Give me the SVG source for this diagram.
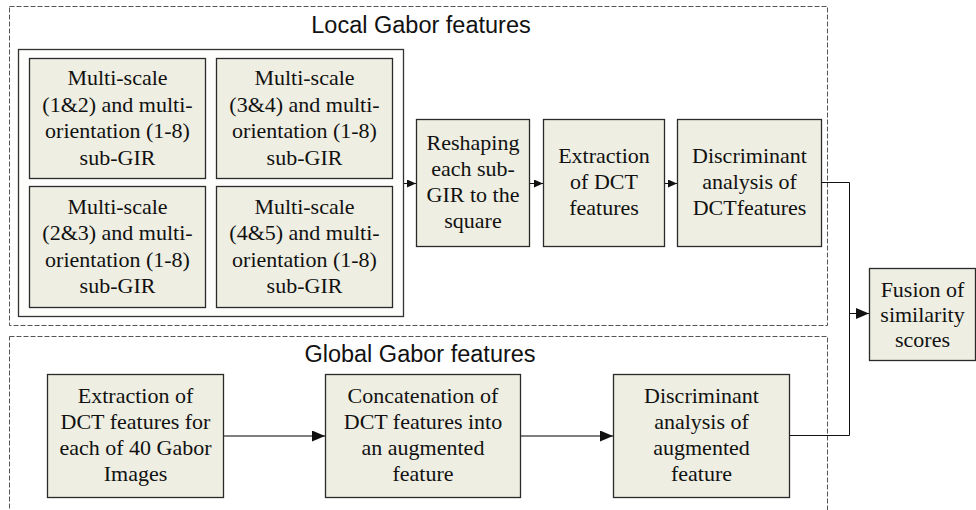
<svg xmlns="http://www.w3.org/2000/svg" width="976" height="510" viewBox="0 0 976 510">
  <style>
    .group-frame { fill: none; stroke: #555; stroke-width: 1; stroke-dasharray: 5 2; }
    .panel { fill: #fdfdfb; stroke: #333; stroke-width: 1.3; }
    .box { fill: #eeeee2; stroke: #2a2a2a; stroke-width: 1.3; }
    .label { font-family: "Liberation Serif", "Times New Roman", serif; font-size: 22px; fill: #111; text-anchor: middle; }
    .title { font-family: "Liberation Sans", Arial, sans-serif; font-size: 23.5px; fill: #111; text-anchor: middle; }
    .wire { fill: none; stroke: #111; stroke-width: 1; }
    .wire-grey { fill: none; stroke: #555; stroke-width: 1.5; }
  </style>
  <defs>
    <marker id="arrow-small" markerUnits="userSpaceOnUse" markerWidth="9" markerHeight="8" refX="9" refY="4" orient="auto">
      <path d="M0,0 L9,4 L0,8 Z" fill="#111"/>
    </marker>
    <marker id="arrow-large" markerUnits="userSpaceOnUse" markerWidth="13" markerHeight="11" refX="13" refY="5.5" orient="auto">
      <path d="M0,0 L13,5.5 L0,11 Z" fill="#111"/>
    </marker>
  </defs>

  <!-- group frames -->
  <g id="local-frame">
    <rect class="group-frame" x="9.5" y="6.5" width="818" height="319"/>
    <text class="title" x="421" y="33">Local Gabor features</text>
  </g>
  <g id="global-frame">
    <rect class="group-frame" x="9.5" y="336.5" width="818" height="185"/>
    <text class="title" x="420" y="362">Global Gabor features</text>
  </g>

  <!-- sub-GIR panel -->
  <g id="sub-gir-panel">
    <rect class="panel" x="18.5" y="49.5" width="385" height="267"/>
  </g>
  <g id="sub-gir-12">
    <rect class="box" x="29.5" y="58.5" width="176" height="120"/>
    <text class="label" x="117.5" y="85">Multi-scale</text>
    <text class="label" x="117.5" y="111.5">(1&amp;2) and multi-</text>
    <text class="label" x="117.5" y="138">orientation (1-8)</text>
    <text class="label" x="117.5" y="164.5">sub-GIR</text>
  </g>
  <g id="sub-gir-34">
    <rect class="box" x="216.5" y="58.5" width="176" height="120"/>
    <text class="label" x="304.5" y="85">Multi-scale</text>
    <text class="label" x="304.5" y="111.5">(3&amp;4) and multi-</text>
    <text class="label" x="304.5" y="138">orientation (1-8)</text>
    <text class="label" x="304.5" y="164.5">sub-GIR</text>
  </g>
  <g id="sub-gir-23">
    <rect class="box" x="29.5" y="186.5" width="176" height="121"/>
    <text class="label" x="117.5" y="213.5">Multi-scale</text>
    <text class="label" x="117.5" y="240">(2&amp;3) and multi-</text>
    <text class="label" x="117.5" y="266.5">orientation (1-8)</text>
    <text class="label" x="117.5" y="293">sub-GIR</text>
  </g>
  <g id="sub-gir-45">
    <rect class="box" x="216.5" y="186.5" width="176" height="121"/>
    <text class="label" x="304.5" y="213.5">Multi-scale</text>
    <text class="label" x="304.5" y="240">(4&amp;5) and multi-</text>
    <text class="label" x="304.5" y="266.5">orientation (1-8)</text>
    <text class="label" x="304.5" y="293">sub-GIR</text>
  </g>

  <!-- local pipeline -->
  <g id="reshaping">
    <rect class="box" x="416.5" y="119.5" width="113" height="127"/>
    <text class="label" x="473" y="150">Reshaping</text>
    <text class="label" x="473" y="176">each sub-</text>
    <text class="label" x="473" y="202">GIR to the</text>
    <text class="label" x="473" y="228">square</text>
  </g>
  <g id="local-dct">
    <rect class="box" x="543.5" y="119.5" width="121" height="127"/>
    <text class="label" x="604" y="163">Extraction</text>
    <text class="label" x="604" y="189">of DCT</text>
    <text class="label" x="604" y="215">features</text>
  </g>
  <g id="local-discriminant">
    <rect class="box" x="677.5" y="119.5" width="144" height="127"/>
    <text class="label" x="749.5" y="163">Discriminant</text>
    <text class="label" x="749.5" y="189">analysis of</text>
    <text class="label" x="749.5" y="215">DCTfeatures</text>
  </g>

  <!-- global pipeline -->
  <g id="global-dct">
    <rect class="box" x="47.5" y="374.5" width="176" height="123"/>
    <text class="label" x="135.5" y="403">Extraction of</text>
    <text class="label" x="135.5" y="429">DCT features for</text>
    <text class="label" x="135.5" y="455">each of 40 Gabor</text>
    <text class="label" x="135.5" y="481">Images</text>
  </g>
  <g id="concatenation">
    <rect class="box" x="325.5" y="374.5" width="195" height="123"/>
    <text class="label" x="423" y="403">Concatenation of</text>
    <text class="label" x="423" y="429">DCT features into</text>
    <text class="label" x="423" y="455">an augmented</text>
    <text class="label" x="423" y="481">feature</text>
  </g>
  <g id="global-discriminant">
    <rect class="box" x="613.5" y="374.5" width="176" height="123"/>
    <text class="label" x="701.5" y="403">Discriminant</text>
    <text class="label" x="701.5" y="429">analysis of</text>
    <text class="label" x="701.5" y="455">augmented</text>
    <text class="label" x="701.5" y="481">feature</text>
  </g>

  <!-- score fusion -->
  <g id="fusion">
    <rect class="box" x="869.5" y="268.5" width="106" height="92"/>
    <text class="label" x="922.5" y="297">Fusion of</text>
    <text class="label" x="922.5" y="322">similarity</text>
    <text class="label" x="922.5" y="347">scores</text>
  </g>

  <!-- connectors -->
  <g id="connectors">
    <line class="wire" x1="404" y1="183.5" x2="416" y2="183.5" marker-end="url(#arrow-small)"/>
    <line class="wire" x1="530" y1="183.5" x2="543" y2="183.5" marker-end="url(#arrow-small)"/>
    <line class="wire" x1="665" y1="183.5" x2="677" y2="183.5" marker-end="url(#arrow-small)"/>
    <line class="wire-grey" x1="224" y1="436" x2="325" y2="436" marker-end="url(#arrow-large)"/>
    <line class="wire-grey" x1="521" y1="436" x2="613" y2="436" marker-end="url(#arrow-large)"/>
    <polyline class="wire" points="822,182.5 849.5,182.5 849.5,435.5 790,435.5"/>
    <line class="wire" x1="849.5" y1="313.5" x2="869" y2="313.5" marker-end="url(#arrow-large)"/>
  </g>
</svg>
